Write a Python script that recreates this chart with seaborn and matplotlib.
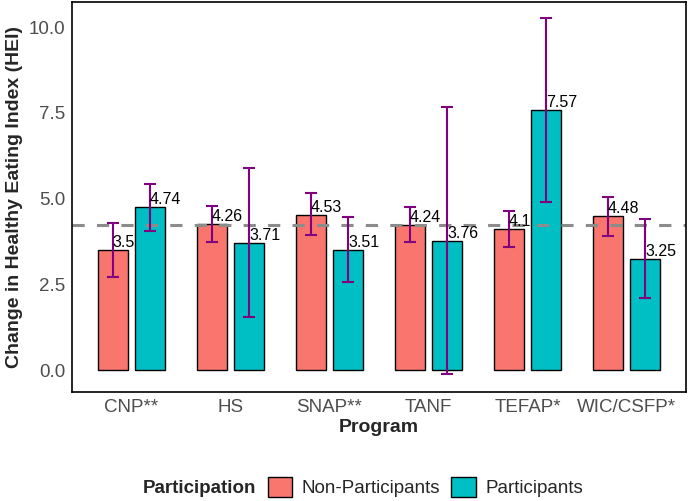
import pandas as pd
import seaborn as sns
from matplotlib import pyplot as plt
from matplotlib.patches import Patch

programs = ["CNP**", "HS", "SNAP**", "TANF", "TEFAP*", "WIC/CSFP*"]
groups = ["Non-Participants", "Participants"]
non_part = [3.5, 4.26, 4.53, 4.24, 4.1, 4.48]
part = [4.74, 3.71, 3.51, 3.76, 7.57, 3.25]
non_lo = [2.71, 3.74, 3.93, 3.73, 3.59, 3.92]
non_hi = [4.29, 4.79, 5.15, 4.76, 4.63, 5.04]
part_lo = [4.06, 1.54, 2.56, -0.13, 4.90, 2.11]
part_hi = [5.42, 5.89, 4.46, 7.66, 10.26, 4.40]
overall_mean = 4.23

df = pd.DataFrame({
    "Program": programs * 2,
    "Participation": [groups[0]] * 6 + [groups[1]] * 6,
    "HEI": non_part + part,
    "lo": non_lo + part_lo,
    "hi": non_hi + part_hi,
})

sns.set_style("white")
plt.rcParams["font.family"] = ["Liberation Sans", "DejaVu Sans"]

fig = plt.figure(figsize=(6.88, 5.01), dpi=100)
ax = fig.add_axes([0.1047, 0.2176, 0.8923, 0.7784])

palette = {"Non-Participants": "#F8766D", "Participants": "#00BFC4"}
sns.barplot(data=df, x="Program", y="HEI", hue="Participation", order=programs,
            hue_order=groups, palette=palette, saturation=1, width=0.75, gap=0.2,
            errorbar=None, edgecolor="black", linewidth=1.0, legend=False, ax=ax)

ax.axhline(overall_mean, color="#8C8C8C", lw=2.2, ls=(0, (4, 4)), zorder=1.5)

# bars are drawn hue by hue, in program order
bars = ax.patches[:12]
for bar, (_, row) in zip(bars, df.iterrows()):
    xc = bar.get_x() + bar.get_width() / 2
    ax.errorbar(xc, row["HEI"], yerr=[[row["HEI"] - row["lo"]], [row["hi"] - row["HEI"]]],
                fmt="none", ecolor="#800080", elinewidth=1.5, capsize=4, capthick=1.5, zorder=4)
    ax.text(xc, row["HEI"], f"{row['HEI']:g}", ha="left", va="bottom",
            fontsize=11.5, color="black", zorder=5)

ax.set_xlim(-0.6, 5.6)
ax.set_ylim(-0.64, 10.73)
ax.set_yticks([0, 2.5, 5, 7.5, 10])
ax.set_yticklabels(["0.0", "2.5", "5.0", "7.5", "10.0"])
ax.tick_params(axis="both", length=0, labelsize=13.5, labelcolor="#4D4D4D", pad=5)
ax.set_xlabel("Program", fontsize=14, fontweight="bold", labelpad=2)
ax.set_ylabel("Change in Healthy Eating Index (HEI)", fontsize=14, fontweight="bold", labelpad=4)
for s in ax.spines.values():
    s.set_color("black")
    s.set_linewidth(1.2)

handles = [Patch(visible=False)] + [Patch(facecolor=palette[g], edgecolor="black", lw=1) for g in groups]
labels = ["Participation"] + groups
leg = fig.legend(handles, labels, loc="center", bbox_to_anchor=(0.503, 0.028), ncol=3,
                 frameon=False, fontsize=13.5, handlelength=1.3, handleheight=1.3,
                 handletextpad=0.5, columnspacing=0.6)
leg.get_texts()[0].set_fontweight("bold")

fig.savefig("out.png", dpi=100)
